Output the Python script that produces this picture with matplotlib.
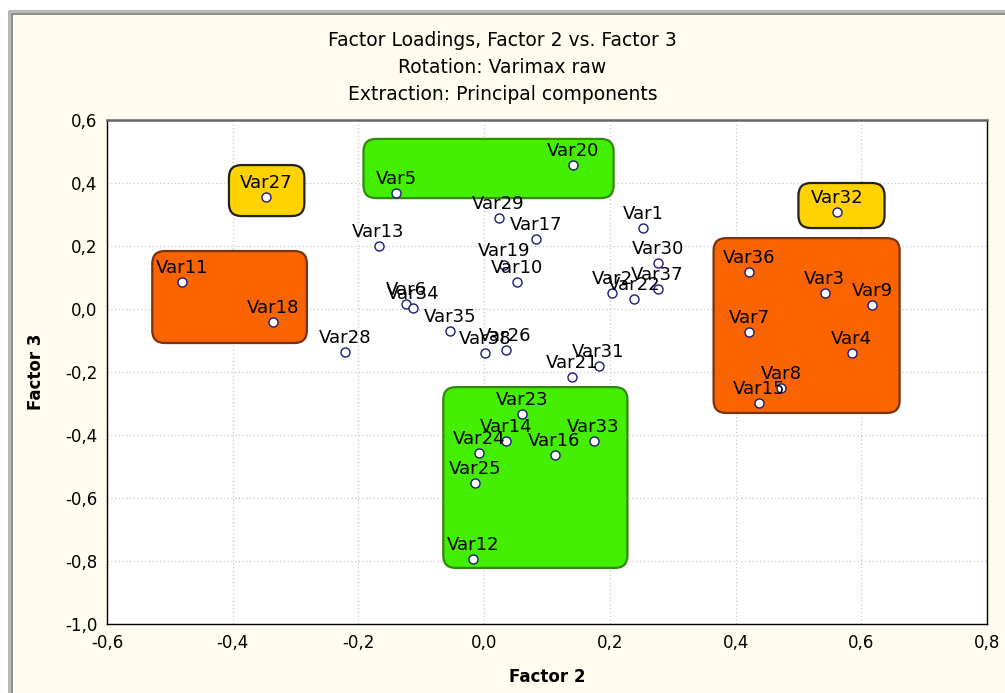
import matplotlib
matplotlib.use("Agg")
import matplotlib.pyplot as plt
from matplotlib.patches import FancyBboxPatch, Rectangle
from matplotlib.lines import Line2D
from matplotlib.ticker import FuncFormatter, MultipleLocator

# Cargas factoriales (Factor 2, Factor 3)
nombres = ["Var1", "Var2", "Var3", "Var4", "Var5", "Var6", "Var7", "Var8", "Var9", "Var10",
           "Var11", "Var12", "Var13", "Var14", "Var15", "Var16", "Var17", "Var18", "Var19", "Var20",
           "Var21", "Var22", "Var23", "Var24", "Var25", "Var26", "Var27", "Var28", "Var29", "Var30",
           "Var31", "Var32", "Var33", "Var34", "Var35", "Var36", "Var37", "Var38"]
factor2 = [0.253, 0.204, 0.542, 0.585, -0.140, -0.124, 0.422, 0.473, 0.617, 0.053,
           -0.481, -0.017, -0.168, 0.035, 0.438, 0.112, 0.082, -0.336, 0.031, 0.142,
           0.140, 0.238, 0.061, -0.008, -0.014, 0.034, -0.347, -0.221, 0.023, 0.276,
           0.182, 0.562, 0.174, -0.113, -0.054, 0.421, 0.276, 0.002]
factor3 = [0.257, 0.051, 0.051, -0.140, 0.368, 0.016, -0.073, -0.251, 0.013, 0.086,
           0.086, -0.794, 0.200, -0.419, -0.298, -0.463, 0.222, -0.041, 0.140, 0.457,
           -0.216, 0.032, -0.333, -0.457, -0.552, -0.130, 0.356, -0.137, 0.289, 0.146,
           -0.181, 0.308, -0.419, 0.003, -0.070, 0.117, 0.063, -0.140]

# Grupos marcados: (x0, y0, x1, y1, relleno, borde)
grupos = [
    (-0.192, 0.352, 0.206, 0.540, "#44ee00", "#2f8a10"),
    (-0.065, -0.822, 0.228, -0.248, "#44ee00", "#2f8a10"),
    (-0.528, -0.108, -0.282, 0.184, "#fa6400", "#7a3208"),
    (0.365, -0.330, 0.661, 0.225, "#fa6400", "#7a3208"),
    (-0.406, 0.295, -0.286, 0.457, "#ffd200", "#222222"),
    (0.500, 0.257, 0.637, 0.400, "#ffd200", "#222222"),
]

titulos = ["Factor Loadings, Factor 2 vs. Factor 3",
           "Rotation: Varimax raw",
           "Extraction: Principal components"]

fig = plt.figure(figsize=(10.05, 6.93), dpi=100)
fig.patch.set_facecolor("white")

# fondo tipo ventana con borde gris
W, H = 1005, 693
fig.patches.append(Rectangle((13 / W, 0), 1, 1 - 14 / H, transform=fig.transFigure,
                             facecolor="#fffbef", edgecolor="none", zorder=-10))
fig.lines.append(Line2D([9 / W, 9 / W, 1], [0, 1 - 11 / H, 1 - 11 / H], transform=fig.transFigure,
                        color="#b8b8b8", lw=2.2))
fig.lines.append(Line2D([12 / W, 12 / W, 1], [0, 1 - 13.5 / H, 1 - 13.5 / H], transform=fig.transFigure,
                        color="#7a7a7a", lw=1.2))

ax = fig.add_axes([107 / W, 69 / H, 880 / W, 504 / H])
ax.set_facecolor("white")
ax.set_xlim(-0.6, 0.8)
ax.set_ylim(-1.0, 0.6)
ax.xaxis.set_major_locator(MultipleLocator(0.2))
ax.yaxis.set_major_locator(MultipleLocator(0.2))
fmt = FuncFormatter(lambda v, p: f"{v:.1f}".replace(".", ","))
ax.xaxis.set_major_formatter(fmt)
ax.yaxis.set_major_formatter(fmt)
ax.grid(True, color="#c8c8c8", linestyle=(0, (1, 2)), linewidth=0.9)
ax.set_axisbelow(True)
ax.tick_params(length=0, labelsize=12, pad=7)
for s in ax.spines.values():
    s.set_color("black")
    s.set_linewidth(1.0)
ax.spines["top"].set_color("#666666")
ax.spines["top"].set_linewidth(1.8)

# cajas redondeadas de los grupos
aspecto = (0.6 - -1.0) / 504 * 880 / (0.8 - -0.6)
for x0, y0, x1, y1, relleno, borde in grupos:
    caja = FancyBboxPatch((x0, y0), x1 - x0, y1 - y0,
                          boxstyle="round,pad=0,rounding_size=0.02",
                          mutation_aspect=aspecto,
                          facecolor=relleno, edgecolor=borde, linewidth=1.6, zorder=1)
    ax.add_patch(caja)

ax.plot(factor2, factor3, linestyle="none", marker="o", markersize=6.5,
        markerfacecolor="white", markeredgecolor="#1c1c78", markeredgewidth=1.0, zorder=3)

for nombre, x, y in zip(nombres, factor2, factor3):
    ax.annotate(nombre, (x, y), xytext=(0, 6.5), textcoords="offset points",
                ha="center", va="baseline", fontsize=13, color="black", zorder=4)

ax.set_xlabel("Factor 2", fontsize=12, fontweight="bold", labelpad=12)
ax.set_ylabel("Factor 3", fontsize=12, fontweight="bold", labelpad=14)

for i, t in enumerate(titulos):
    fig.text(0.5, 1 - (40 + 27.5 * i) / H, t, ha="center", va="center", fontsize=13.5)

fig.savefig("out.png", dpi=100, facecolor=fig.get_facecolor())
